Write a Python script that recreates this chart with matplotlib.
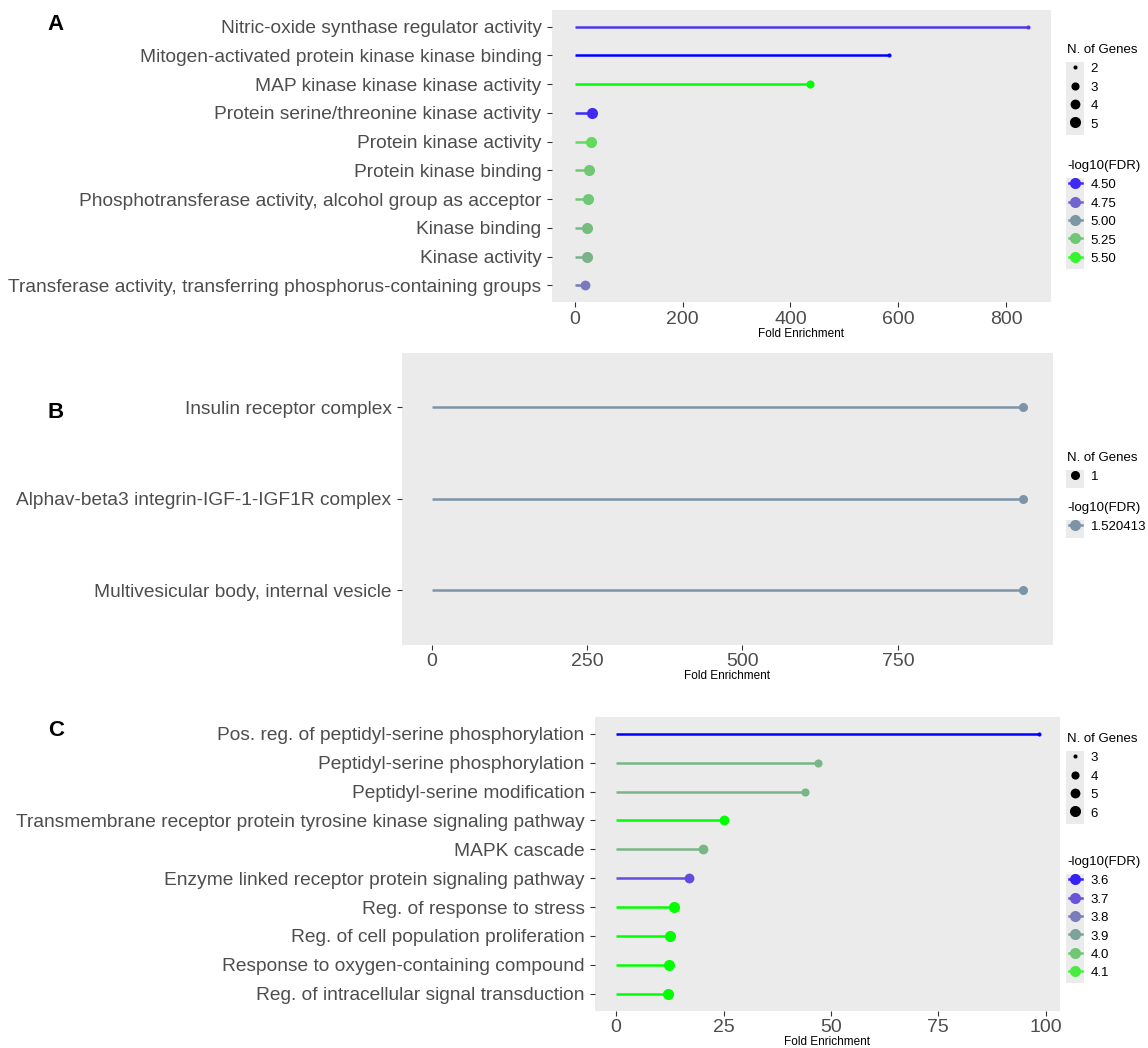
import numpy as np
import matplotlib
matplotlib.use("Agg")
import matplotlib.pyplot as plt
import matplotlib.colors as mcolors
from matplotlib.colors import ListedColormap
from matplotlib.lines import Line2D
from matplotlib.patches import Rectangle

plt.rcParams['font.family'] = ['Liberation Sans', 'DejaVu Sans']

# ---- data ----
terms_a = ["Nitric-oxide synthase regulator activity",
           "Mitogen-activated protein kinase kinase binding",
           "MAP kinase kinase kinase activity",
           "Protein serine/threonine kinase activity",
           "Protein kinase activity",
           "Protein kinase binding",
           "Phosphotransferase activity, alcohol group as acceptor",
           "Kinase binding",
           "Kinase activity",
           "Transferase activity, transferring phosphorus-containing groups"]
fold_a = [841, 582, 436, 32, 30, 27, 25, 23.5, 22.5, 18.5]
genes_a = [2, 2, 3, 5, 5, 5, 5, 5, 5, 4]
fdr_a = [4.55, 4.42, 5.55, 4.50, 5.35, 5.25, 5.25, 5.20, 5.15, 4.85]
ticks_a = [0, 200, 400, 600, 800]
size_breaks_a = [2, 3, 4, 5]
color_breaks_a = [4.50, 4.75, 5.00, 5.25, 5.50]
color_labels_a = ["4.50", "4.75", "5.00", "5.25", "5.50"]

terms_b = ["Insulin receptor complex",
           "Alphav-beta3 integrin-IGF-1-IGF1R complex",
           "Multivesicular body, internal vesicle"]
fold_b = [952, 952, 952]
genes_b = [1, 1, 1]
fdr_b = [1.520413, 1.520413, 1.520413]
ticks_b = [0, 250, 500, 750]
size_breaks_b = [1]
color_breaks_b = [1.520413]
color_labels_b = ["1.520413"]

terms_c = ["Pos. reg. of peptidyl-serine phosphorylation",
           "Peptidyl-serine phosphorylation",
           "Peptidyl-serine modification",
           "Transmembrane receptor protein tyrosine kinase signaling pathway",
           "MAPK cascade",
           "Enzyme linked receptor protein signaling pathway",
           "Reg. of response to stress",
           "Reg. of cell population proliferation",
           "Response to oxygen-containing compound",
           "Reg. of intracellular signal transduction"]
fold_c = [98.4, 47.0, 43.9, 25.0, 20.2, 17.0, 13.5, 12.6, 12.4, 12.0]
genes_c = [3, 4, 4, 5, 5, 5, 6, 6, 6, 6]
fdr_c = [3.57, 3.95, 3.95, 4.15, 3.95, 3.68, 4.15, 4.15, 4.15, 4.15]
ticks_c = [0, 25, 50, 75, 100]
size_breaks_c = [3, 4, 5, 6]
color_breaks_c = [3.6, 3.7, 3.8, 3.9, 4.0, 4.1]
color_labels_c = ["3.6", "3.7", "3.8", "3.9", "4.0", "4.1"]


# blue -> green gradient interpolated in Lab space (like ggplot)
M = np.array([[0.4124, 0.3576, 0.1805],
              [0.2126, 0.7152, 0.0722],
              [0.0193, 0.1192, 0.9505]])
WHITE = np.array([0.95047, 1.0, 1.08883])


def to_lab(c):
    rgb = np.array(mcolors.to_rgb(c))
    lin = np.where(rgb <= 0.04045, rgb / 12.92, ((rgb + 0.055) / 1.055) ** 2.4)
    xyz = M @ lin / WHITE
    f = np.where(xyz > 0.008856, np.cbrt(xyz), 7.787 * xyz + 16 / 116)
    return np.array([116 * f[1] - 16, 500 * (f[0] - f[1]), 200 * (f[1] - f[2])])


def from_lab(lab):
    fy = (lab[0] + 16) / 116
    f = np.array([fy + lab[1] / 500, fy, fy - lab[2] / 200])
    xyz = np.where(f ** 3 > 0.008856, f ** 3, (f - 16 / 116) / 7.787) * WHITE
    lin = np.clip(np.linalg.solve(M, xyz), 0, 1)
    rgb = np.where(lin <= 0.0031308, 12.92 * lin, 1.055 * lin ** (1 / 2.4) - 0.055)
    return np.clip(rgb, 0, 1)


lab_lo, lab_hi = to_lab("#0000ff"), to_lab("#00ff00")
cmap = ListedColormap([from_lab(lab_lo + t * (lab_hi - lab_lo)) for t in np.linspace(0, 1, 256)])

PX2PT = 0.72
W, H = 1148, 1048


def dot_pt(g, gmin, gmax):
    # ggplot area scale (range 1..6) plus stroke, converted to points
    t = 0.5 if gmax == gmin else (g - gmin) / (gmax - gmin)
    return (1.4 * (1 + 5 * np.sqrt(t)) + 2.7) * PX2PT


fig = plt.figure(figsize=(W / 100, H / 100), dpi=100)

ROW = 18.2  # legend row height, px
FS_LEG = 9.5


def add_legend(handles, labels, title, title_y):
    fig.text(1067 / W, 1 - title_y / H, title, fontsize=FS_LEG, ha='left', va='center')
    top = title_y + 21 - ROW / 2
    # grey key background, as in ggplot legends
    fig.patches.append(Rectangle((1066 / W, 1 - (top + len(labels) * ROW) / H),
                                 18 / W, len(labels) * ROW / H,
                                 transform=fig.transFigure, facecolor="#ebebeb",
                                 edgecolor='none', zorder=0))
    fig.legend(handles, labels, loc='upper left',
               bbox_to_anchor=(1069 / W, 1 - top / H),
               frameon=False, fontsize=FS_LEG,
               handlelength=0.95, handleheight=1.0, handletextpad=0.7,
               labelspacing=(ROW / (FS_LEG / 0.72)) - 1.0,
               borderpad=0, borderaxespad=0)


def panel(rect, terms, fold, genes, fdr, ticks, size_breaks, color_breaks, color_labels,
          letter, letter_y, size_title_y, color_title_y):
    ax = fig.add_axes(rect)
    ax.set_facecolor("#ebebeb")
    for s in ax.spines.values():
        s.set_visible(False)
    n = len(terms)
    y = np.arange(n)
    lo, hi = min(fdr), max(fdr)
    norm = mcolors.Normalize(lo, hi) if hi > lo else mcolors.Normalize(lo - 1, hi + 1)
    gmin, gmax = min(genes), max(genes)
    for yi, f, g, v in zip(y, fold, genes, fdr):
        c = cmap(norm(v))
        ax.plot([0, f], [yi, yi], color=c, lw=1.8, solid_capstyle='butt', zorder=2)
        ax.plot([f], [yi], marker='o', ms=dot_pt(g, gmin, gmax), color=c, mec='none', zorder=3)
    pad = 0.05 * max(fold)
    ax.set_xlim(-pad, max(fold) + pad)
    ax.set_ylim(n - 1 + 0.6, -0.6)
    ax.set_yticks(y)
    ax.set_yticklabels(terms, fontsize=13.8, color="#4d4d4d")
    ax.set_xticks(ticks)
    ax.set_xticklabels([str(t) for t in ticks], fontsize=14, color="#4d4d4d")
    ax.tick_params(length=3.5, width=0.8, color="#333333")
    ax.tick_params(axis='x', pad=2.5)
    ax.tick_params(axis='y', pad=4)
    ax.set_xlabel("Fold Enrichment", fontsize=8.5, labelpad=0)

    fig.text(56 / W, 1 - letter_y / H, letter, fontsize=16, fontweight='bold',
             ha='center', va='center')

    sb_min, sb_max = min(size_breaks), max(size_breaks)
    h1 = [Line2D([], [], marker='o', ls='none', color='black', mec='none',
                 ms=dot_pt(g, sb_min, sb_max)) for g in size_breaks]
    add_legend(h1, [str(g) for g in size_breaks], "N. of Genes", size_title_y)

    h2 = [Line2D([], [], marker='o', ms=dot_pt(1, 0, 1), lw=1.8, color=cmap(norm(b)), mec='none')
          for b in color_breaks]
    add_legend(h2, color_labels, "-log10(FDR)", color_title_y)
    return ax


panel([552 / W, 1 - 302.5 / H, 499 / W, 293 / H],
      terms_a, fold_a, genes_a, fdr_a, ticks_a, size_breaks_a, color_breaks_a, color_labels_a,
      "A", 25, 50, 166)
panel([402 / W, 1 - 645 / H, 651 / W, 292.5 / H],
      terms_b, fold_b, genes_b, fdr_b, ticks_b, size_breaks_b, color_breaks_b, color_labels_b,
      "B", 412, 458, 508)
panel([595 / W, 1 - 1011 / H, 465 / W, 294.5 / H],
      terms_c, fold_c, genes_c, fdr_c, ticks_c, size_breaks_c, color_breaks_c, color_labels_c,
      "C", 730, 739, 862)

fig.savefig("out.png", dpi=100)
